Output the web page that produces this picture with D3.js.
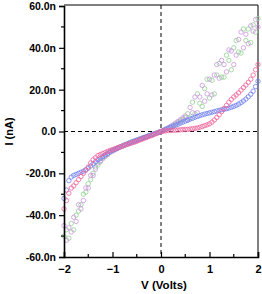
<!DOCTYPE html>
<html>
<head>
<meta charset="utf-8">
<script src="https://cdn.jsdelivr.net/npm/d3@7"></script>
<style>
  body { margin: 0; background: #fff; }
  svg text { font-family: "Liberation Sans", Arial, sans-serif; font-weight: bold; fill: #000; }
</style>
</head>
<body>
<svg id="svg" width="262" height="294"></svg>
<script>
// bias sweep, volts
const volts = [
  -2.00, -1.95, -1.90, -1.85, -1.80, -1.75, -1.70, -1.65, -1.60, -1.55,
  -1.50, -1.45, -1.40, -1.35, -1.30, -1.25, -1.20, -1.15, -1.10, -1.05,
  -1.00, -0.95, -0.90, -0.85, -0.80, -0.75, -0.70, -0.65, -0.60, -0.55,
  -0.50, -0.45, -0.40, -0.35, -0.30, -0.25, -0.20, -0.15, -0.10, -0.05,
  0.00, 0.05, 0.10, 0.15, 0.20, 0.25, 0.30, 0.35, 0.40, 0.45,
  0.50, 0.55, 0.60, 0.65, 0.70, 0.75, 0.80, 0.85, 0.90, 0.95,
  1.00, 1.05, 1.10, 1.15, 1.20, 1.25, 1.30, 1.35, 1.40, 1.45,
  1.50, 1.55, 1.60, 1.65, 1.70, 1.75, 1.80, 1.85, 1.90, 1.95, 2.00
];

// currents in nA, one value per bias point
const pinkCurrent = [
  -37, -33, -29.5, -27, -26, -24.5, -23, -21.5, -20, -18.5,
  -17, -15, -13.5, -12.5, -11.5, -11, -10.5, -10, -9.5, -9,
  -8.7, -8.2, -7.8, -7.4, -7, -6.6, -6.2, -5.8, -5.5, -5.1,
  -4.7, -4.2, -3.8, -3.3, -2.9, -2.4, -2, -1.5, -1, -0.5,
  0, 0.2, 0.3, 0.4, 0.5, 0.6, 0.6, 0.7, 0.8, 0.9,
  1.0, 1.0, 1.2, 1.3, 1.5, 1.7, 2.0, 2.4, 2.8, 3.2,
  3.7, 4.5, 5.5, 6.7, 8, 9.5, 11, 12.5, 14, 15.3,
  16.5, 17.5, 18.5, 19.8, 21, 22.2, 23.5, 25, 27, 29.5, 32
];

const blueCurrent = [
  -32, -28, -23.5, -21.8, -21, -20.5, -20, -19.5, -19, -18.3,
  -17.5, -16.5, -15.5, -14.5, -13.5, -12.8, -12, -11.2, -10.5, -9.7,
  -9, -8.5, -8, -7.5, -7, -6.5, -6, -5.5, -5, -4.6,
  -4.2, -3.7, -3.3, -2.9, -2.5, -2, -1.6, -1.2, -0.8, -0.4,
  0, 0.5, 1, 1.5, 2, 2.5, 3, 3.5, 4, 4.5,
  5, 5.4, 5.9, 6.3, 6.8, 7.2, 7.6, 8, 8.3, 8.6,
  8.9, 9.2, 9.5, 9.8, 10.1, 10.4, 10.6, 10.9, 11.2, 11.6,
  12, 12.5, 13.1, 13.8, 14.6, 15.5, 16.6, 17.8, 19.3, 21.5, 24
];

const greenCurrent = [
  -50, -47, -51, -44, -47, -40, -38, -35, -30, -29,
  -25, -23, -20, -17, -16, -14.5, -12.5, -12, -10.8, -10,
  -9.2, -8.6, -8, -7.4, -6.9, -6.4, -5.9, -5.4, -5, -4.6,
  -4.1, -3.7, -3.3, -2.8, -2.4, -2, -1.6, -1.2, -0.8, -0.4,
  0, 0.5, 1, 1.6, 2.2, 2.9, 3.6, 4.3, 5, 5.8,
  6.7, 8.5, 6.5, 14, 8.5, 18, 13.5, 12, 20.5, 25,
  16, 24.5, 18, 27, 32.5, 26, 26, 36.5, 34, 29.5,
  40, 43.5, 38, 37.5, 49, 43.5, 49, 42.5, 51, 47.5, 54
];

const violetCurrent = [
  -45, -52, -46, -48, -41, -43, -35, -37, -33, -27,
  -27, -21, -21, -18, -15, -14, -13, -11.5, -11, -9.8,
  -9.4, -8.8, -8.2, -7.6, -7.1, -6.6, -6.1, -5.6, -5.1, -4.7,
  -4.3, -3.8, -3.4, -2.9, -2.5, -2.1, -1.7, -1.3, -0.9, -0.5,
  0, 0.6, 1.2, 1.8, 2.5, 3.2, 4, 4.8, 5.6, 6.5,
  7.4, 5.5, 11.5, 9, 16.5, 9, 16.5, 22, 14.5, 18,
  25, 17.5, 27, 32, 25.5, 34, 32, 28.5, 39, 38.5,
  32, 36.5, 44, 47.5, 40, 46.5, 42, 50.5, 48, 53.5, 50
];

const series = [
  { name: "green", color: "#8fd08f", values: greenCurrent },
  { name: "violet", color: "#c996e0", values: violetCurrent },
  { name: "blue", color: "#6f7ff0", values: blueCurrent },
  { name: "pink", color: "#f0639a", values: pinkCurrent }
];

const xTicks = [-2, -1, 0, 1, 2];
const xMinorTicks = [-1.5, -0.5, 0.5, 1.5];
const yTicks = [60, 40, 20, 0, -20, -40, -60];
const yTickLabels = ["60.0n", "40.0n", "20.0n", "0.0", "-20.0n", "-40.0n", "-60.0n"];
const yMinorTicks = [50, 30, 10, -10, -30, -50];

const svg = d3.select("#svg");
const plot = { left: 64, right: 258, top: 6, bottom: 257 };

const x = d3.scaleLinear()
    .domain([-2, 2])
    .range([plot.left, plot.right]);

const y = d3.scaleLinear()
    .domain([-60, 60])
    .range([plot.bottom, plot.top]);

// top and right frame
svg.append("path")
    .attr("d", `M${plot.left},${plot.top - 1}H${plot.right}V${plot.bottom}`)
    .attr("fill", "none")
    .attr("stroke", "#000")
    .attr("stroke-width", 1);

// dashed zero lines
const zeroLines = svg.append("g")
    .attr("stroke", "#000")
    .attr("stroke-width", 1)
    .attr("stroke-dasharray", "4,3");

zeroLines.append("line")
    .attr("x1", plot.left).attr("x2", plot.right)
    .attr("y1", y(0)).attr("y2", y(0));

zeroLines.append("line")
    .attr("x1", x(0)).attr("x2", x(0))
    .attr("y1", plot.top - 1).attr("y2", plot.bottom);

// points
series.forEach(s => {
  svg.append("g")
      .attr("fill", "none")
      .attr("stroke", s.color)
      .attr("stroke-width", 0.8)
    .selectAll("circle")
    .data(volts.map((v, i) => [v, s.values[i]]))
    .join("circle")
      .attr("cx", d => x(d[0]))
      .attr("cy", d => y(d[1]))
      .attr("r", 2.2);
});

// x axis, ticks pointing inward
const xAxis = svg.append("g")
    .attr("transform", `translate(0,${plot.bottom})`)
    .call(d3.axisBottom(x).tickValues(xTicks).tickSize(-5).tickPadding(8).tickFormat(d3.format("d")));

xAxis.selectAll(".tick line").attr("stroke-width", 1.2);
xAxis.select(".domain").attr("stroke-width", 1.6);
xAxis.selectAll(".tick text").attr("font-size", 11).attr("font-family", null);

svg.append("g")
    .attr("stroke", "#000")
    .attr("stroke-width", 1.2)
  .selectAll("line")
  .data(xMinorTicks)
  .join("line")
    .attr("x1", d => x(d)).attr("x2", d => x(d))
    .attr("y1", plot.bottom).attr("y2", plot.bottom - 3);

// y axis, ticks pointing outward
const yAxis = svg.append("g")
    .attr("transform", `translate(${plot.left},0)`)
    .call(d3.axisLeft(y).tickValues(yTicks).tickSize(5).tickPadding(3).tickFormat((d, i) => yTickLabels[i]));

yAxis.selectAll(".tick line").attr("stroke-width", 1.2);
yAxis.select(".domain").attr("stroke-width", 1.6);
yAxis.selectAll(".tick text").attr("font-size", 10.5).attr("font-family", null);

svg.append("g")
    .attr("stroke", "#000")
    .attr("stroke-width", 1.2)
  .selectAll("line")
  .data(yMinorTicks)
  .join("line")
    .attr("x1", plot.left).attr("x2", plot.left - 3)
    .attr("y1", d => y(d)).attr("y2", d => y(d));

// axis titles
svg.append("text")
    .attr("x", (plot.left + plot.right) / 2 + 3)
    .attr("y", 289)
    .attr("text-anchor", "middle")
    .attr("font-size", 11.5)
    .text("V (Volts)");

svg.append("text")
    .attr("transform", `translate(13,${y(0)}) rotate(-90)`)
    .attr("text-anchor", "middle")
    .attr("font-size", 11)
    .text("I (nA)");
</script>
</body>
</html>
